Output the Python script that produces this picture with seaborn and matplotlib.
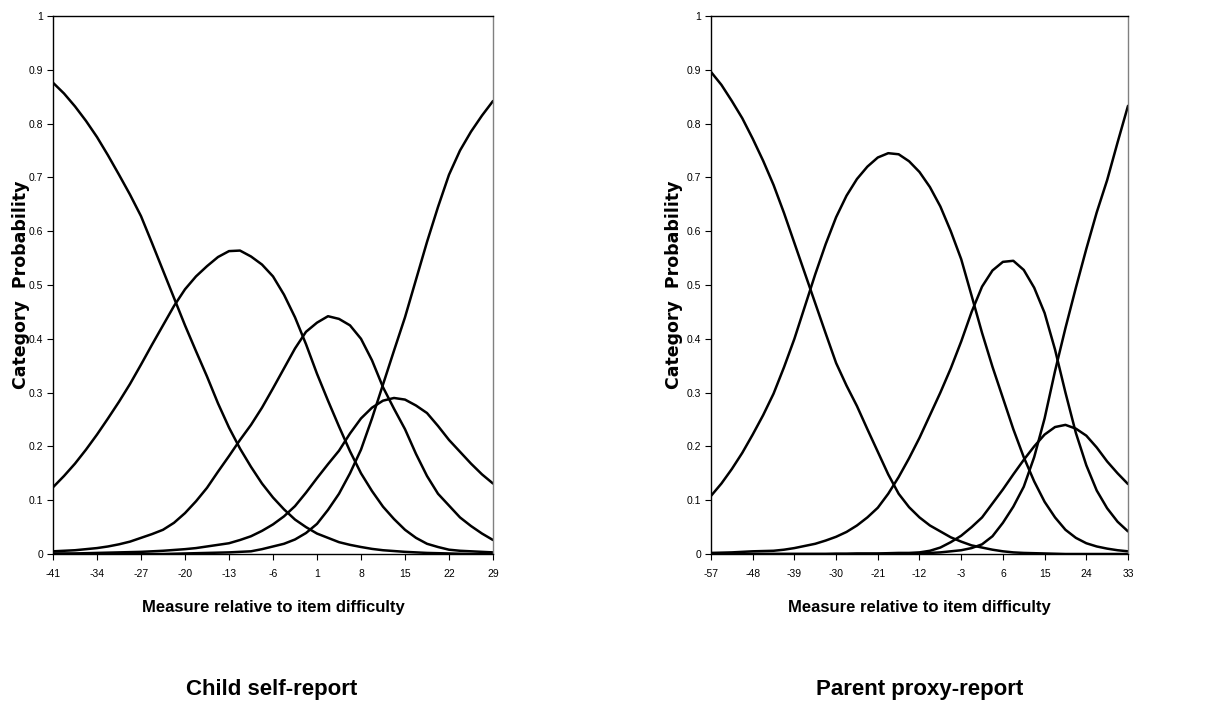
import matplotlib
matplotlib.use("Agg")
import matplotlib.pyplot as plt
import seaborn as sns
import pandas as pd

# ---------------- data ----------------
child_x = [-41, -39.25, -37.5, -35.75, -34, -32.25, -30.5, -28.75, -27, -25.25, -23.5,
           -21.75, -20, -18.25, -16.5, -14.75, -13, -11.25, -9.5, -7.75, -6,
           -4.25, -2.5, -0.75, 1, 2.75, 4.5, 6.25, 8, 9.75, 11.5,
           13.25, 15, 16.75, 18.5, 20.25, 22, 23.75, 25.5, 27.25, 29]
child_c0 = [0.876, 0.856, 0.832, 0.805, 0.775, 0.741, 0.705, 0.668, 0.628, 0.578, 0.527,
            0.476, 0.425, 0.377, 0.330, 0.280, 0.235, 0.196, 0.162, 0.131, 0.105,
            0.083, 0.064, 0.050, 0.038, 0.030, 0.022, 0.017, 0.013, 0.0095, 0.007,
            0.0055, 0.004, 0.003, 0.002, 0.0015, 0.001, 0.0005, 0.0, 0.0, 0.0]
child_c1 = [0.124, 0.145, 0.168, 0.194, 0.222, 0.252, 0.283, 0.316, 0.352, 0.389, 0.425,
            0.461, 0.492, 0.516, 0.535, 0.552, 0.563, 0.564, 0.553, 0.538, 0.516,
            0.482, 0.440, 0.390, 0.335, 0.285, 0.237, 0.191, 0.150, 0.117, 0.088,
            0.065, 0.045, 0.030, 0.019, 0.013, 0.008, 0.006, 0.005, 0.004, 0.003]
child_c2 = [0.005, 0.006, 0.007, 0.009, 0.011, 0.014, 0.018, 0.023, 0.030, 0.037, 0.045,
            0.058, 0.076, 0.098, 0.123, 0.153, 0.182, 0.212, 0.240, 0.272, 0.308,
            0.345, 0.382, 0.413, 0.430, 0.442, 0.437, 0.425, 0.400, 0.360, 0.310,
            0.270, 0.232, 0.186, 0.145, 0.112, 0.090, 0.068, 0.052, 0.038, 0.026]
child_c3 = [0.001, 0.001, 0.001, 0.0015, 0.002, 0.0025, 0.003, 0.0035, 0.004, 0.005, 0.006,
            0.0075, 0.009, 0.011, 0.014, 0.017, 0.020, 0.026, 0.033, 0.043, 0.055,
            0.070, 0.089, 0.114, 0.141, 0.167, 0.192, 0.224, 0.252, 0.272, 0.285,
            0.290, 0.287, 0.276, 0.262, 0.238, 0.212, 0.190, 0.168, 0.148, 0.131]
child_c4 = [0.0, 0.0, 0.0, 0.0, 0.0, 0.0, 0.0, 0.0, 0.0, 0.0, 0.0,
            0.0005, 0.001, 0.0015, 0.002, 0.0025, 0.003, 0.004, 0.005, 0.009, 0.014,
            0.019, 0.027, 0.039, 0.056, 0.082, 0.112, 0.150, 0.194, 0.252, 0.315,
            0.378, 0.440, 0.510, 0.580, 0.645, 0.705, 0.750, 0.785, 0.815, 0.842]
child_ticks = [-41, -34, -27, -20, -13, -6, 1, 8, 15, 22, 29]

parent_x = [-57, -54.75, -52.5, -50.25, -48, -45.75, -43.5, -41.25, -39, -36.75, -34.5,
            -32.25, -30, -27.75, -25.5, -23.25, -21, -18.75, -16.5, -14.25, -12,
            -9.75, -7.5, -5.25, -3, -0.75, 1.5, 3.75, 6, 8.25, 10.5,
            12.75, 15, 17.25, 19.5, 21.75, 24, 26.25, 28.5, 30.75, 33]
parent_c0 = [0.896, 0.872, 0.842, 0.810, 0.772, 0.731, 0.686, 0.634, 0.578, 0.522, 0.466,
             0.410, 0.355, 0.313, 0.275, 0.232, 0.190, 0.148, 0.112, 0.087, 0.068,
             0.053, 0.042, 0.031, 0.023, 0.016, 0.012, 0.008, 0.005, 0.003, 0.002,
             0.0015, 0.001, 0.0005, 0.0, 0.0, 0.0, 0.0, 0.0, 0.0, 0.0]
parent_c1 = [0.108, 0.131, 0.158, 0.188, 0.222, 0.258, 0.298, 0.347, 0.400, 0.460, 0.520,
             0.576, 0.626, 0.666, 0.697, 0.720, 0.737, 0.745, 0.743, 0.730, 0.710,
             0.682, 0.646, 0.600, 0.548, 0.480, 0.411, 0.348, 0.290, 0.232, 0.180,
             0.135, 0.097, 0.068, 0.045, 0.030, 0.020, 0.014, 0.010, 0.007, 0.005]
parent_c2 = [0.002, 0.0025, 0.003, 0.004, 0.005, 0.0055, 0.006, 0.008, 0.011, 0.015, 0.019,
             0.025, 0.032, 0.041, 0.053, 0.068, 0.086, 0.112, 0.143, 0.178, 0.216,
             0.258, 0.300, 0.345, 0.395, 0.450, 0.497, 0.527, 0.543, 0.545, 0.528,
             0.495, 0.448, 0.380, 0.300, 0.225, 0.165, 0.118, 0.085, 0.060, 0.042]
parent_c3 = [0.0, 0.0, 0.0, 0.0, 0.0, 0.0, 0.0, 0.0, 0.0, 0.0, 0.0,
             0.0, 0.0005, 0.0005, 0.001, 0.001, 0.001, 0.0015, 0.002, 0.002, 0.003,
             0.006, 0.012, 0.022, 0.034, 0.050, 0.068, 0.094, 0.120, 0.148, 0.175,
             0.200, 0.222, 0.236, 0.240, 0.233, 0.220, 0.198, 0.172, 0.150, 0.130]
parent_c4 = [0.0, 0.0, 0.0, 0.0, 0.0, 0.0, 0.0, 0.0, 0.0, 0.0, 0.0,
             0.0, 0.0, 0.0, 0.0, 0.0, 0.0, 0.0, 0.0, 0.0, 0.001,
             0.002, 0.003, 0.005, 0.007, 0.011, 0.018, 0.033, 0.058, 0.088, 0.125,
             0.180, 0.252, 0.340, 0.420, 0.495, 0.567, 0.635, 0.695, 0.765, 0.833]
parent_ticks = [-57, -48, -39, -30, -21, -12, -3, 6, 15, 24, 33]

y_ticks = [0, 0.1, 0.2, 0.3, 0.4, 0.5, 0.6, 0.7, 0.8, 0.9, 1]
y_tick_labels = ["0", "0.1", "0.2", "0.3", "0.4", "0.5", "0.6", "0.7", "0.8", "0.9", "1"]
titles = ["Child self-report", "Parent proxy-report"]
x_label = "Measure relative to item difficulty"
y_label = "Category  Probability"


def long_frame(x, curves):
    rows = []
    for k, vals in enumerate(curves):
        for xi, yi in zip(x, vals):
            rows.append({"x": xi, "p": yi, "cat": f"c{k}"})
    return pd.DataFrame(rows)


sns.set_theme(style="white")
narrow = ["Liberation Sans Narrow", "Liberation Sans", "DejaVu Sans"]
plt.rcParams["font.family"] = ["Liberation Sans", "DejaVu Sans"]
plt.rcParams["text.color"] = "black"
plt.rcParams["axes.labelcolor"] = "black"
plt.rcParams["xtick.color"] = "black"
plt.rcParams["ytick.color"] = "black"

fig = plt.figure(figsize=(12.21, 7.09), dpi=100)
ax_l = fig.add_axes([53 / 1221, 1 - 554 / 709, 440 / 1221, 538 / 709])
ax_r = fig.add_axes([711 / 1221, 1 - 554 / 709, 417 / 1221, 538 / 709])

panels = [
    (ax_l, child_x, [child_c0, child_c1, child_c2, child_c3, child_c4], child_ticks, 272, -0.052),
    (ax_r, parent_x, [parent_c0, parent_c1, parent_c2, parent_c3, parent_c4], parent_ticks, 920, -0.066),
]

for i, (ax, xs, curves, ticks, cx, ylab_x) in enumerate(panels):
    df = long_frame(xs, curves)
    sns.lineplot(data=df, x="x", y="p", hue="cat", palette=["black"] * 5,
                 estimator=None, sort=True, legend=False, linewidth=1.8, ax=ax)
    ax.set_xlim(ticks[0], ticks[-1])
    ax.set_ylim(0, 1)
    ax.set_xticks(ticks)
    ax.set_xticklabels([str(t) for t in ticks], family=narrow, fontsize=7.5)
    ax.set_yticks(y_ticks)
    ax.set_yticklabels(y_tick_labels, family=narrow, fontsize=7.5)
    ax.tick_params(axis="y", direction="out", length=4, width=0.8, color="black",
                   labelcolor="black", left=True, pad=3)
    ax.tick_params(axis="x", direction="out", length=4, width=0.8, color="black",
                   labelcolor="black", bottom=True, pad=7)
    ax.set_xlabel(x_label, family=narrow, fontsize=12, fontweight="bold", labelpad=15,
                  color="black")
    ax.set_ylabel(y_label, family=["DejaVu Sans"], fontsize=12.5, fontweight="bold",
                  color="black")
    ax.yaxis.set_label_coords(ylab_x, 0.5)
    for side in ["left", "bottom", "top"]:
        ax.spines[side].set_color("black")
        ax.spines[side].set_linewidth(1.0)
        ax.spines[side].set_visible(True)
    ax.spines["right"].set_visible(True)
    ax.spines["right"].set_color("#808080")
    ax.spines["right"].set_linewidth(1.0)
    ax.grid(False)
    fig.text(cx / 1221, 1 - 689 / 709, titles[i], ha="center", va="center",
             fontsize=16, fontweight="bold", color="black")

fig.savefig("out.png", dpi=100, facecolor="white")
